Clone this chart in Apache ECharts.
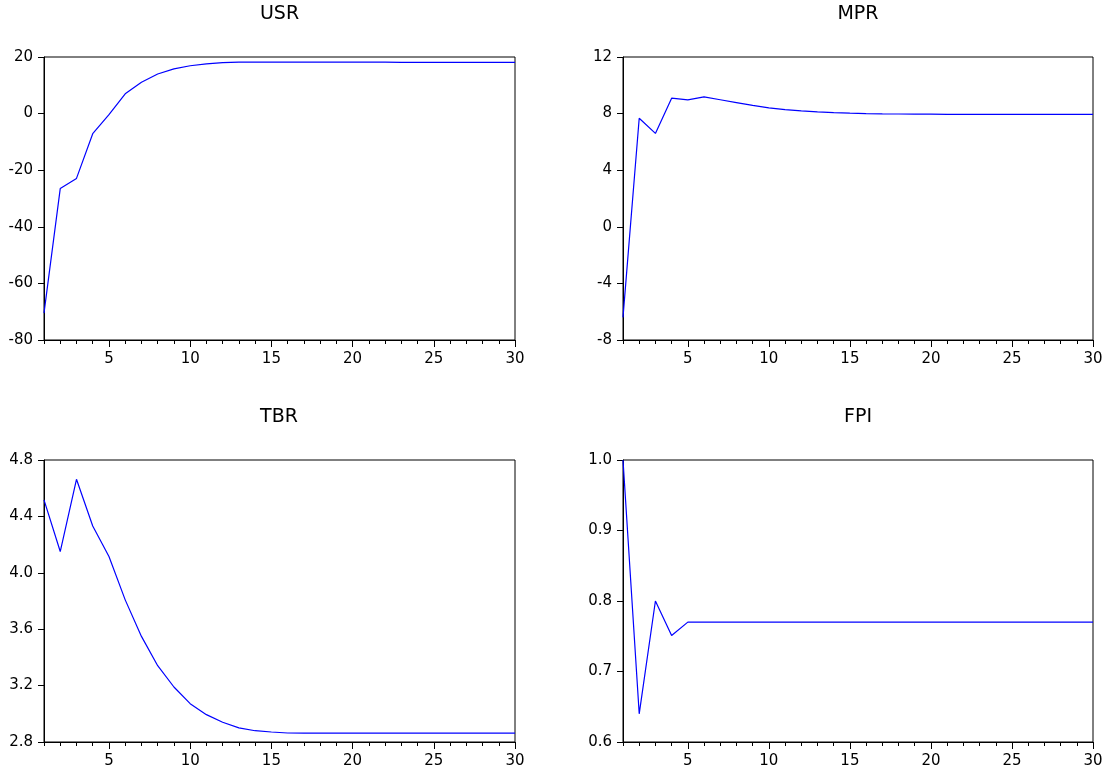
<!DOCTYPE html>
<html>
<head>
<meta charset="utf-8">
<script src="https://cdn.jsdelivr.net/npm/echarts@6/dist/echarts.min.js"></script>
<style>
html,body{margin:0;padding:0;background:#fff;}
#chart{width:1107px;height:770px;}
</style>
</head>
<body>
<div id="chart"></div>
<script>
const periods = ['1','2','3','4','5','6','7','8','9','10','11','12','13','14','15','16','17','18','19','20','21','22','23','24','25','26','27','28','29','30'];
const titles = ['USR', 'MPR', 'TBR', 'FPI'];
const usr = [-70.5, -26.5, -22.9, -7.1, -0.4, 7.0, 11.1, 14.0, 15.8, 16.9, 17.6, 18.0, 18.2, 18.2, 18.2, 18.2, 18.2, 18.2, 18.2, 18.2, 18.2, 18.2, 18.1, 18.1, 18.1, 18.1, 18.1, 18.1, 18.1, 18.1];
const mpr = [-6.4, 7.67, 6.6, 9.09, 8.97, 9.18, 8.98, 8.78, 8.58, 8.41, 8.28, 8.19, 8.12, 8.07, 8.03, 8.0, 7.98, 7.97, 7.96, 7.96, 7.95, 7.95, 7.95, 7.95, 7.95, 7.95, 7.95, 7.95, 7.95, 7.95];
const tbr = [4.517, 4.151, 4.663, 4.332, 4.115, 3.808, 3.549, 3.341, 3.19, 3.072, 2.994, 2.94, 2.90, 2.88, 2.871, 2.864, 2.863, 2.863, 2.863, 2.863, 2.863, 2.863, 2.863, 2.863, 2.863, 2.863, 2.863, 2.863, 2.863, 2.863];
const fpi = [1.0, 0.640, 0.800, 0.751, 0.770, 0.770, 0.770, 0.770, 0.770, 0.770, 0.770, 0.770, 0.770, 0.770, 0.770, 0.770, 0.770, 0.770, 0.770, 0.770, 0.770, 0.770, 0.770, 0.770, 0.770, 0.770, 0.770, 0.770, 0.770, 0.770];
const yMin = [-80, -8, 2.8, 0.6];
const yMax = [20, 12, 4.8, 1.0];
const yStep = [20, 4, 0.4, 0.1];
const yDecimals = [0, 0, 1, 1];

const FONT = 'DejaVu Sans';
const seriesData = [usr, mpr, tbr, fpi];
const grids = [
  {left: 44, top: 57, width: 471, height: 283},
  {left: 623, top: 57, width: 470, height: 283},
  {left: 44, top: 460, width: 471, height: 282},
  {left: 623, top: 460, width: 470, height: 282}
];
const titlePos = [[279.5, 14.5], [858, 14.5], [279, 417.5], [858, 417.5]];

const isFive = (i, v) => (+v) % 5 === 0;

const option = {
  animation: false,
  backgroundColor: '#fff',
  grid: grids.map(g => Object.assign({show: true, borderColor: '#000', borderWidth: 1, backgroundColor: 'transparent', outerBoundsMode: 'none'}, g)),
  xAxis: [],
  yAxis: [],
  series: [],
  graphic: titles.map((t, i) => ({
    type: 'text', x: titlePos[i][0], y: titlePos[i][1],
    style: {text: t, font: '19px "' + FONT + '"', fill: '#000', align: 'center', verticalAlign: 'middle'}
  }))
};

for (let k = 0; k < 4; k++) {
  option.xAxis.push({
    type: 'category', gridIndex: k, data: periods, boundaryGap: false, position: 'bottom',
    axisLine: {show: true, onZero: false, lineStyle: {color: '#000', width: 1}},
    axisTick: {show: true, interval: 0, length: 4, lineStyle: {color: '#000'}},
    axisLabel: {show: false},
    splitLine: {show: false}
  });
  option.xAxis.push({
    type: 'category', gridIndex: k, data: periods, boundaryGap: false, position: 'bottom', offset: 0,
    axisLine: {show: false, onZero: false},
    axisTick: {show: true, interval: isFive, length: 7, lineStyle: {color: '#000'}},
    axisLabel: {show: true, interval: isFive, color: '#000', fontFamily: FONT, fontSize: 15, margin: 12},
    splitLine: {show: false}
  });
  const dec = yDecimals[k];
  option.yAxis.push({
    type: 'value', gridIndex: k, min: yMin[k], max: yMax[k], interval: yStep[k],
    axisLine: {show: true, onZero: false, lineStyle: {color: '#000', width: 1}},
    axisTick: {show: true, length: 6, lineStyle: {color: '#000'}},
    axisLabel: {color: '#000', fontFamily: FONT, fontSize: 15, margin: 11,
      verticalAlign: 'middle', padding: [0, 0, 10, 0],
      formatter: v => (+v).toFixed(dec)},
    splitLine: {show: false}
  });
  option.series.push({
    type: 'line', xAxisIndex: 2 * k, yAxisIndex: k, data: seriesData[k],
    symbol: 'none', lineStyle: {color: '#0000ff', width: 1.2}, silent: true
  });
}

const chart = echarts.init(document.getElementById('chart'), null, {renderer: 'canvas'});
chart.setOption(option);
</script>
</body>
</html>
